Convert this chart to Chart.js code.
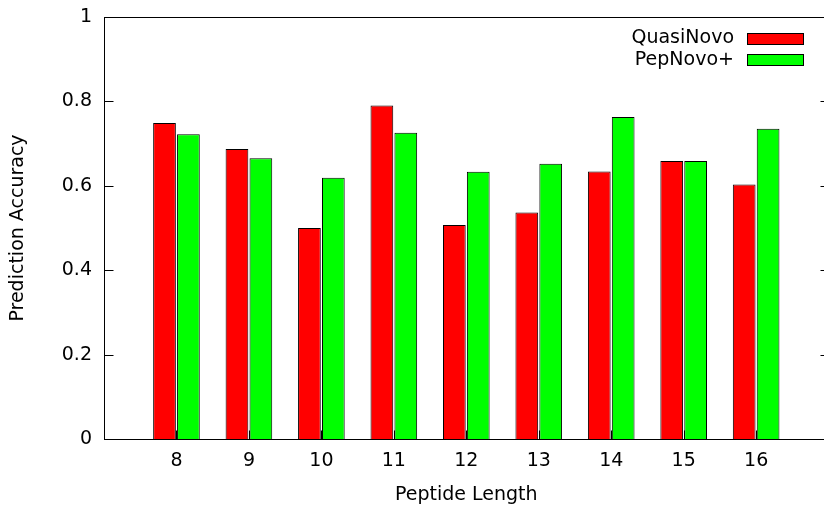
<!DOCTYPE html>
<html><head><meta charset="utf-8">
<script src="https://cdn.jsdelivr.net/npm/chart.js@4/dist/chart.umd.min.js"></script>
<style>html,body{margin:0;padding:0;overflow:hidden;background:#fff}#wrap{width:832px;height:506px}</style>
</head><body><div id="wrap"><canvas id="c" width="832" height="506" style="width:832px;height:506px"></canvas></div>
<script>
const peptideLengths = [8, 9, 10, 11, 12, 13, 14, 15, 16];
const quasiNovo   = [0.749, 0.687, 0.500, 0.790, 0.507, 0.537, 0.634, 0.659, 0.603];
const pepNovoPlus = [0.722, 0.665, 0.619, 0.726, 0.633, 0.652, 0.763, 0.659, 0.735];
const seriesNames = ['QuasiNovo', 'PepNovo+'];
const yTickValues = [0, 0.2, 0.4, 0.6, 0.8, 1];
const xTitle = 'Peptide Length';
const yTitle = 'Prediction Accuracy';

const FONT = {family: "'DejaVu Sans', sans-serif", size: 19};

const frame = {
  id: 'frame',
  afterDatasetsDraw(c) {
    const {ctx, chartArea: a, scales: {x, y}} = c;
    ctx.save();
    ctx.strokeStyle = '#000';
    ctx.lineWidth = 1;
    const L = Math.round(a.left) + 0.5, R = Math.round(a.right) + 0.5;
    const T = Math.round(a.top) + 0.5, B = Math.round(a.bottom) + 0.5;
    ctx.beginPath();
    yTickValues.forEach(v => {
      const py = Math.round(y.getPixelForValue(v)) + 0.5;
      ctx.moveTo(L, py); ctx.lineTo(L + 9, py);
      ctx.moveTo(R, py); ctx.lineTo(R - 9, py);
    });
    peptideLengths.forEach(v => {
      const px = Math.round(x.getPixelForValue(v)) + 0.5;
      ctx.moveTo(px, B); ctx.lineTo(px, B - 9);
    });
    ctx.stroke();
    ctx.strokeRect(L, T, R - L, B - T);

    // gnuplot-style legend: label then swatch, top right
    ctx.font = "19px 'DejaVu Sans', sans-serif";
    ctx.textAlign = 'right';
    ctx.textBaseline = 'middle';
    c.data.datasets.forEach((ds, i) => {
      const cy = 38 + i * 21.6;
      ctx.fillStyle = '#000';
      ctx.fillText(ds.label, 734, cy);
      ctx.fillStyle = ds.backgroundColor;
      ctx.fillRect(747.5, Math.round(cy - 5.5) + 0.5, 56, 11);
      ctx.strokeRect(747.5, Math.round(cy - 5.5) + 0.5, 56, 11);
    });
    ctx.restore();
  }
};

new Chart(document.getElementById('c'), {
  type: 'bar',
  data: {
    datasets: [
      {label: seriesNames[0], data: peptideLengths.map((l, i) => ({x: l, y: quasiNovo[i]})),
       backgroundColor: '#ff0000', borderColor: '#000', borderWidth: 1},
      {label: seriesNames[1], data: peptideLengths.map((l, i) => ({x: l, y: pepNovoPlus[i]})),
       backgroundColor: '#00ff00', borderColor: '#000', borderWidth: 1}
    ]
  },
  options: {
    responsive: false,
    animation: false,
    devicePixelRatio: 1,
    categoryPercentage: 0.66,
    barPercentage: 0.95,
    layout: {padding: {top: 17, right: 3.4, bottom: 0, left: 0}},
    plugins: {legend: {display: false}, tooltip: {enabled: false}},
    scales: {
      x: {
        type: 'linear', min: 7, max: 17, offset: false,
        grid: {display: false, drawTicks: false}, border: {display: false},
        afterBuildTicks: s => { s.ticks = peptideLengths.map(v => ({value: v})); },
        afterFit: s => { s.height = 67; s.paddingLeft = 0; s.paddingRight = 0; },
        ticks: {autoSkip: false, maxRotation: 0, padding: 11, color: '#000', font: FONT,
                callback: v => String(v)},
        title: {display: true, text: xTitle, color: '#000', font: FONT, padding: {top: 2, bottom: 0}}
      },
      y: {
        min: 0, max: 1,
        grid: {display: false, drawTicks: false}, border: {display: false},
        afterBuildTicks: s => { s.ticks = yTickValues.map(v => ({value: v})); },
        afterFit: s => { s.width = 104; s.paddingTop = 0; s.paddingBottom = 0; },
        ticks: {padding: 12, color: '#000', font: FONT, callback: v => String(+(+v).toFixed(1))},
        title: {display: true, text: yTitle, color: '#000', font: FONT, padding: {top: 7, bottom: 0}}
      }
    }
  }
  ,plugins: [frame]
});
</script>
</body></html>
